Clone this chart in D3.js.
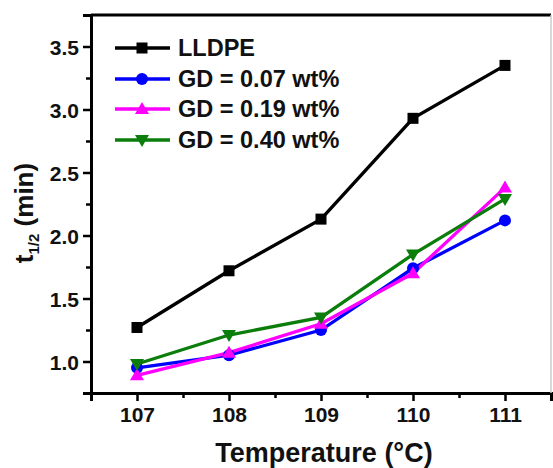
<!DOCTYPE html>
<html><head><meta charset="utf-8">
<script src="https://cdn.jsdelivr.net/npm/d3@7"></script>
<style>body{margin:0;background:#fff}svg{display:block}text{font-family:"Liberation Sans",Arial,sans-serif;font-weight:bold;fill:#111}</style>
</head><body>
<script>
const temps = [107, 108, 109, 110, 111];
const lldpe = [1.27, 1.72, 2.13, 2.93, 3.35];
const gd007 = [0.95, 1.05, 1.25, 1.74, 2.12];
const gd019 = [0.89, 1.07, 1.30, 1.70, 2.38];
const gd040 = [0.98, 1.21, 1.35, 1.85, 2.29];
const seriesNames = ["LLDPE", "GD = 0.07 wt%", "GD = 0.19 wt%", "GD = 0.40 wt%"];
const seriesColors = ["#000000", "#0000ff", "#ff00ff", "#0a7d0a"];
const seriesSymbols = ["square", "circle", "triangle", "triangleDown"];
const xTicks = [107, 108, 109, 110, 111];
const yTicks = [1.0, 1.5, 2.0, 2.5, 3.0, 3.5];

const W = 553, H = 468;
const svg = d3.select("body").append("svg").attr("width", W).attr("height", H);
const x = d3.scaleLinear().domain([106.5, 111.5]).range([91, 551]);
const y = d3.scaleLinear().domain([0.75, 3.75]).range([393, 15]);

const values = [lldpe, gd007, gd019, gd040];

function marker(g, type, color) {
  if (type === "square") g.append("rect").attr("x", -5.5).attr("y", -5.5).attr("width", 11).attr("height", 11).attr("fill", color);
  else if (type === "circle") g.append("circle").attr("r", 6).attr("fill", color);
  else if (type === "triangle") g.append("path").attr("d", "M0,-7L7,5L-7,5Z").attr("fill", color);
  else g.append("path").attr("d", "M0,7L7,-5L-7,-5Z").attr("fill", color);
}

// axes frame
const gx = svg.append("g").attr("transform", `translate(0,${y.range()[0]})`)
  .call(d3.axisBottom(x).tickValues(xTicks).tickFormat(d3.format("d")).tickSize(8).tickPadding(6));
const gxm = svg.append("g").attr("transform", `translate(0,${y.range()[0]})`)
  .call(d3.axisBottom(x).tickValues(d3.range(106.5, 111.6, 1)).tickFormat("").tickSize(5));
const gy = svg.append("g").attr("transform", `translate(${x.range()[0]},0)`)
  .call(d3.axisLeft(y).tickValues(yTicks).tickFormat(d3.format(".1f")).tickSize(8).tickPadding(4));
const gym = svg.append("g").attr("transform", `translate(${x.range()[0]},0)`)
  .call(d3.axisLeft(y).tickValues([1.25, 1.75, 2.25, 2.75, 3.25]).tickFormat("").tickSize(5));
[gx, gxm, gy, gym].forEach(g => {
  g.selectAll(".domain").attr("stroke", "#000").attr("stroke-width", 3);
  g.selectAll(".tick line").attr("stroke", "#000").attr("stroke-width", 2.5);
});
gx.selectAll("text").attr("font-size", 21).attr("fill", "#111");
gy.selectAll("text").attr("font-size", 21).attr("fill", "#111").attr("dy", "0.36em");
// top and right frame
svg.append("line").attr("x1", x.range()[0]).attr("x2", x.range()[1]).attr("y1", y.range()[1]).attr("y2", y.range()[1]).attr("stroke", "#000").attr("stroke-width", 3);
svg.append("line").attr("x1", x.range()[1]).attr("x2", x.range()[1]).attr("y1", y.range()[1]).attr("y2", y.range()[0]).attr("stroke", "#ccc").attr("stroke-width", 1.5);

// series
const line = d3.line().x((d, i) => x(temps[i])).y(d => y(d));
values.forEach((vals, s) => {
  svg.append("path").datum(vals).attr("d", line).attr("fill", "none")
    .attr("stroke", seriesColors[s]).attr("stroke-width", 3.3);
});
values.forEach((vals, s) => {
  vals.forEach((v, i) => {
    const g = svg.append("g").attr("transform", `translate(${x(temps[i])},${y(v)})`);
    marker(g, seriesSymbols[s], seriesColors[s]);
  });
});

// legend
const legRows = [48, 79, 109, 140];
seriesNames.forEach((name, s) => {
  const g = svg.append("g").attr("transform", `translate(0,${legRows[s]})`);
  g.append("line").attr("x1", 115).attr("x2", 170).attr("y1", 0).attr("y2", 0)
    .attr("stroke", seriesColors[s]).attr("stroke-width", 3.3);
  const m = g.append("g").attr("transform", "translate(142,0)");
  marker(m, seriesSymbols[s], seriesColors[s]);
  g.append("text").attr("x", 178).attr("y", 0).attr("dy", "0.36em").attr("font-size", 23.5).text(name);
});

// axis titles
svg.append("text").attr("x", (x.range()[0] + x.range()[1]) / 2 + 3).attr("y", 462)
  .attr("text-anchor", "middle").attr("font-size", 27).text("Temperature (°C)");
const yt = svg.append("text").attr("transform", "translate(33,213) rotate(-90)")
  .attr("text-anchor", "middle").attr("font-size", 26);
yt.append("tspan").text("t");
yt.append("tspan").attr("font-size", 15).attr("dy", 6).text("1/2");
yt.append("tspan").attr("dy", -6).text(" (min)");
</script>
</body></html>
